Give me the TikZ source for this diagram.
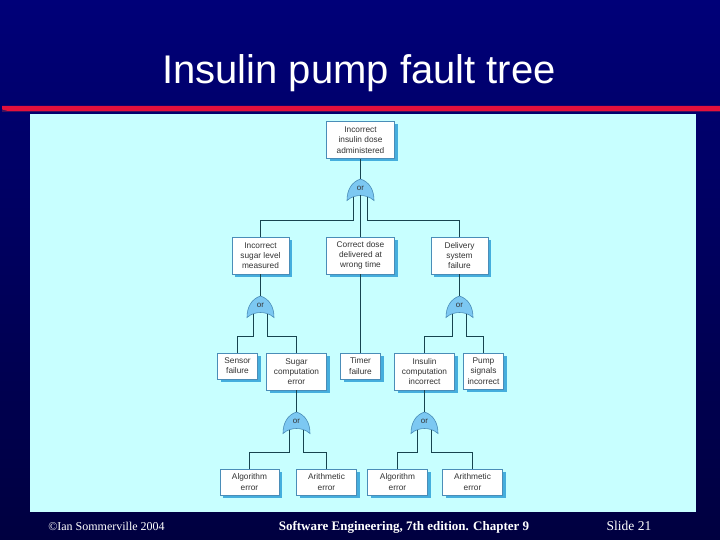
\documentclass[tikz,border=0pt]{standalone}
\usepackage{fontspec}
\setmainfont{Liberation Serif}
\setsansfont{Liberation Sans}
\usetikzlibrary{shadows}
\definecolor{paneltint}{HTML}{C8FFFF}
\definecolor{navytop}{HTML}{000078}
\definecolor{navybot}{HTML}{000040}
\definecolor{rulered}{HTML}{E4103C}
\definecolor{ruledark}{HTML}{40105C}
\definecolor{boxedge}{HTML}{4A8DB8}
\definecolor{boxshade}{HTML}{45AEDD}
\definecolor{gatefill}{HTML}{7CC8F2}
\definecolor{wire}{HTML}{17444F}
\definecolor{labelink}{HTML}{333333}
\tikzset{
  eventbox/.style={draw=boxedge,line width=0.7pt,fill=white,inner sep=0pt,align=center,
    font=\sffamily\fontsize{8.3}{10.2}\selectfont,text=labelink,
    drop shadow={shadow xshift=3pt,shadow yshift=-3pt,fill=boxshade,opacity=1}},
  gateshape/.style={draw=boxedge,line width=0.6pt},
  gatelabel/.style={inner sep=0pt,font=\sffamily\fontsize{8}{9}\selectfont,text=labelink},
  wireline/.style={draw=wire,line width=1.6pt},
}
% centre x, top y, node name
\newcommand{\orgate}[3]{%
  \fill[gatefill] (#1-13.5,#2+21.5) .. controls (#1-13.5,#2+11) and (#1-9,#2+3) .. (#1,#2)
     .. controls (#1+9,#2+3) and (#1+13.5,#2+11) .. (#1+13.5,#2+21.5)
     .. controls (#1+9,#2+17.5) and (#1+4,#2+16.5) .. (#1,#2+16.5)
     .. controls (#1-4,#2+16.5) and (#1-9,#2+17.5) .. (#1-13.5,#2+21.5) -- cycle;
  \draw[gateshape] (#1-13.5,#2+21.5) .. controls (#1-13.5,#2+11) and (#1-9,#2+3) .. (#1,#2)
     .. controls (#1+9,#2+3) and (#1+13.5,#2+11) .. (#1+13.5,#2+21.5)
     .. controls (#1+9,#2+17.5) and (#1+4,#2+16.5) .. (#1,#2+16.5)
     .. controls (#1-4,#2+16.5) and (#1-9,#2+17.5) .. (#1-13.5,#2+21.5) -- cycle;
  \node[gatelabel] (#3) at (#1,#2+9.5) {or};
  \coordinate (#3top) at (#1,#2);
  \coordinate (#3left) at (#1-7,#2+18);
  \coordinate (#3mid) at (#1,#2+16.5);
  \coordinate (#3right) at (#1+7,#2+18);
}
\begin{document}
\begin{tikzpicture}[x=1pt,y=-1pt]
\useasboundingbox (0,0) rectangle (720,540);
\shade[top color=navytop,bottom color=navybot] (0,0) rectangle (720,540);
\fill[paneltint] (30,114) rectangle (696,511.5);
\fill[ruledark] (2,110) rectangle (720,112);
\fill[rulered] (2,106) -- (720,106) -- (720,111) -- (8,111) -- (2,109.5) -- cycle;
\node[anchor=base,font=\sffamily\fontsize{40}{42}\selectfont,text=white,inner sep=0pt] (title) at (359,84) {Insulin pump fault tree};
\node[anchor=base,font=\fontsize{12}{14}\selectfont,text=white,inner sep=0pt] (foot1) at (106.5,530) {©Ian Sommerville 2004};
\node[anchor=base,font=\bfseries\fontsize{13}{14}\selectfont,text=white,inner sep=0pt] (foot2) at (404,530) {Software Engineering, 7th edition. Chapter 9};
\node[anchor=base,font=\fontsize{13.5}{14}\selectfont,text=white,inner sep=0pt] (foot3) at (629,530) {Slide 21};

\node[eventbox,minimum width=68pt,minimum height=37pt] (top) at (360.5,140) {Incorrect\\insulin dose\\administered};
\node[eventbox,minimum width=57pt,minimum height=37pt] (sugar) at (260.5,255.5) {Incorrect\\sugar level\\measured};
\node[eventbox,minimum width=68pt,minimum height=37pt] (dose) at (360.5,255.5) {Correct dose\\delivered at\\wrong time};
\node[eventbox,minimum width=57pt,minimum height=37pt] (delivery) at (459.5,255.5) {Delivery\\system\\failure};
\node[eventbox,minimum width=40pt,minimum height=26pt] (sensor) at (237.5,366) {Sensor\\failure};
\node[eventbox,minimum width=60pt,minimum height=37pt] (sugarcomp) at (296.5,371.5) {Sugar\\computation\\error};
\node[eventbox,minimum width=40pt,minimum height=26pt] (timer) at (360.5,366) {Timer\\failure};
\node[eventbox,minimum width=60pt,minimum height=37pt] (insulincomp) at (424.5,371.5) {Insulin\\computation\\incorrect};
\node[eventbox,minimum width=40pt,minimum height=36pt] (pump) at (483.5,371) {Pump\\signals\\incorrect};
\node[eventbox,minimum width=59pt,minimum height=26pt] (algo1) at (249.5,482) {Algorithm\\error};
\node[eventbox,minimum width=60pt,minimum height=26pt] (arith1) at (326.5,482) {Arithmetic\\error};
\node[eventbox,minimum width=60pt,minimum height=26pt] (algo2) at (397.5,482) {Algorithm\\error};
\node[eventbox,minimum width=60pt,minimum height=26pt] (arith2) at (472.5,482) {Arithmetic\\error};

\orgate{360.5}{179}{gone}
\orgate{260.5}{296}{gtwo}
\orgate{459.5}{296}{gthree}
\orgate{296.5}{412}{gfour}
\orgate{424.5}{412}{gfive}

\draw[wireline] (top.south) -- (gonetop);
\draw[wireline] (gonemid) -- (dose.north);
\draw[wireline] (goneleft) |- (260.5,220.5) -- (sugar.north);
\draw[wireline] (goneright) |- (459.5,220.5) -- (delivery.north);

\draw[wireline] (sugar.south) -- (gtwotop);
\draw[wireline] (gtwoleft) |- (237.5,336.5) -- (sensor.north);
\draw[wireline] (gtworight) |- (296.5,336.5) -- (sugarcomp.north);

\draw[wireline] (dose.south) -- (timer.north);

\draw[wireline] (delivery.south) -- (gthreetop);
\draw[wireline] (gthreeleft) |- (424.5,336.5) -- (insulincomp.north);
\draw[wireline] (gthreeright) |- (483.5,336.5) -- (pump.north);

\draw[wireline] (sugarcomp.south) -- (gfourtop);
\draw[wireline] (gfourleft) |- (249.5,452.5) -- (algo1.north);
\draw[wireline] (gfourright) |- (326.5,452.5) -- (arith1.north);

\draw[wireline] (insulincomp.south) -- (gfivetop);
\draw[wireline] (gfiveleft) |- (397.5,452.5) -- (algo2.north);
\draw[wireline] (gfiveright) |- (472.5,452.5) -- (arith2.north);
\end{tikzpicture}
\end{document}
